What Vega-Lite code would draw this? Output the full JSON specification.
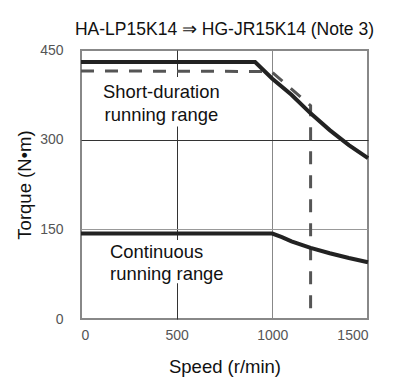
{
  "$schema": "https://vega.github.io/schema/vega-lite/v6.json",
  "width": 287,
  "height": 269,
  "autosize": "none",
  "padding": {"left": 81, "top": 50, "right": 30, "bottom": 62},
  "background": "white",
  "title": {"text": "HA-LP15K14 ⇒ HG-JR15K14 (Note 3)", "font": "Liberation Sans", "fontSize": 17.5, "fontWeight": "normal", "color": "#111", "offset": 5, "anchor": "middle"},
  "config": {"view": {"stroke": "#888", "strokeWidth": 2}, "font": "Liberation Sans"},
  "datasets": {
    "curves": [
      {"series": "short", "i": 1, "speed": 0, "torque": 430},
      {"series": "short", "i": 2, "speed": 910, "torque": 430},
      {"series": "short", "i": 3, "speed": 1000, "torque": 402},
      {"series": "short", "i": 4, "speed": 1100, "torque": 375},
      {"series": "short", "i": 5, "speed": 1200, "torque": 344},
      {"series": "short", "i": 6, "speed": 1300, "torque": 316},
      {"series": "short", "i": 7, "speed": 1400, "torque": 291},
      {"series": "short", "i": 8, "speed": 1500, "torque": 269},
      {"series": "cont", "i": 1, "speed": 0, "torque": 143},
      {"series": "cont", "i": 2, "speed": 1000, "torque": 143},
      {"series": "cont", "i": 3, "speed": 1050, "torque": 137},
      {"series": "cont", "i": 4, "speed": 1100, "torque": 130},
      {"series": "cont", "i": 5, "speed": 1200, "torque": 119},
      {"series": "cont", "i": 6, "speed": 1300, "torque": 110},
      {"series": "cont", "i": 7, "speed": 1400, "torque": 102},
      {"series": "cont", "i": 8, "speed": 1500, "torque": 95},
      {"series": "limit", "i": 1, "speed": 0, "torque": 415},
      {"series": "limit", "i": 2, "speed": 995, "torque": 414},
      {"series": "limit", "i": 3, "speed": 1200, "torque": 357},
      {"series": "limit", "i": 4, "speed": 1200, "torque": 0}
    ],
    "boxes": [
      {"s1": 100, "s2": 740, "t1": 322, "t2": 405},
      {"s1": 150, "s2": 745, "t1": 60, "t2": 132}
    ],
    "labels": [
      {"speed": 420, "torque": 380, "text": ["Short-duration", "running range"], "pos": "c"},
      {"speed": 152, "torque": 112.6, "text": ["Continuous", "running range"], "pos": "l"}
    ]
  },
  "encoding": {
    "x": {
      "field": "speed", "type": "quantitative",
      "scale": {"domain": [0, 1500], "nice": false},
      "axis": {
        "values": [0, 500, 1000, 1500], "format": "d", "grid": true,
        "gridColor": {"condition": {"test": "datum.value == 1000", "value": "#888"}, "value": "#333"},
        "gridOpacity": {"condition": {"test": "datum.value == 0 || datum.value == 1500", "value": 0}, "value": 1},
        "gridWidth": 1, "domain": false, "ticks": false,
        "labelColor": "#555", "labelFontSize": 14, "labelPadding": 9,
        "title": "Speed (r/min)", "titleFontSize": 18.5, "titleFontWeight": "normal", "titleColor": "#111", "titlePadding": 15
      }
    },
    "y": {
      "field": "torque", "type": "quantitative",
      "scale": {"domain": [0, 450], "nice": false},
      "axis": {
        "values": [0, 150, 300, 450], "format": "d", "grid": true,
        "gridColor": {"condition": {"test": "datum.value == 150", "value": "#999"}, "value": "#333"},
        "gridOpacity": {"condition": {"test": "datum.value == 0 || datum.value == 450", "value": 0}, "value": 1},
        "gridWidth": 1, "domain": false, "ticks": false,
        "labelColor": "#555", "labelFontSize": 14, "labelPadding": 18,
        "title": "Torque (N•m)", "titleFontSize": 18.5, "titleFontWeight": "normal", "titleColor": "#111", "titlePadding": 5
      }
    }
  },
  "layer": [
    {
      "data": {"name": "boxes"},
      "mark": {"type": "rect", "fill": "white", "stroke": null},
      "encoding": {
        "x": {"field": "s1", "type": "quantitative"},
        "x2": {"field": "s2"},
        "y": {"field": "t1", "type": "quantitative"},
        "y2": {"field": "t2"}
      }
    },
    {
      "data": {"name": "curves"},
      "transform": [{"filter": "datum.series == 'limit'"}],
      "mark": {"type": "line", "color": "#555", "strokeWidth": 3, "strokeDash": [13, 11]},
      "encoding": {"order": {"field": "i", "type": "quantitative"}}
    },
    {
      "data": {"name": "curves"},
      "transform": [{"filter": "datum.series == 'short'"}],
      "mark": {"type": "line", "color": "#222", "strokeWidth": 4},
      "encoding": {"order": {"field": "i", "type": "quantitative"}}
    },
    {
      "data": {"name": "curves"},
      "transform": [{"filter": "datum.series == 'cont'"}],
      "mark": {"type": "line", "color": "#222", "strokeWidth": 4},
      "encoding": {"order": {"field": "i", "type": "quantitative"}}
    },
    {
      "data": {"name": "labels"},
      "transform": [{"filter": "datum.pos == 'c'"}],
      "mark": {"type": "text", "fontSize": 18.4, "color": "#111", "align": "center", "baseline": "middle", "lineHeight": 23},
      "encoding": {"text": {"field": "text"}}
    },
    {
      "data": {"name": "labels"},
      "transform": [{"filter": "datum.pos == 'l'"}],
      "mark": {"type": "text", "fontSize": 18.4, "color": "#111", "align": "left", "baseline": "middle", "lineHeight": 22},
      "encoding": {"text": {"field": "text"}}
    }
  ]
}
